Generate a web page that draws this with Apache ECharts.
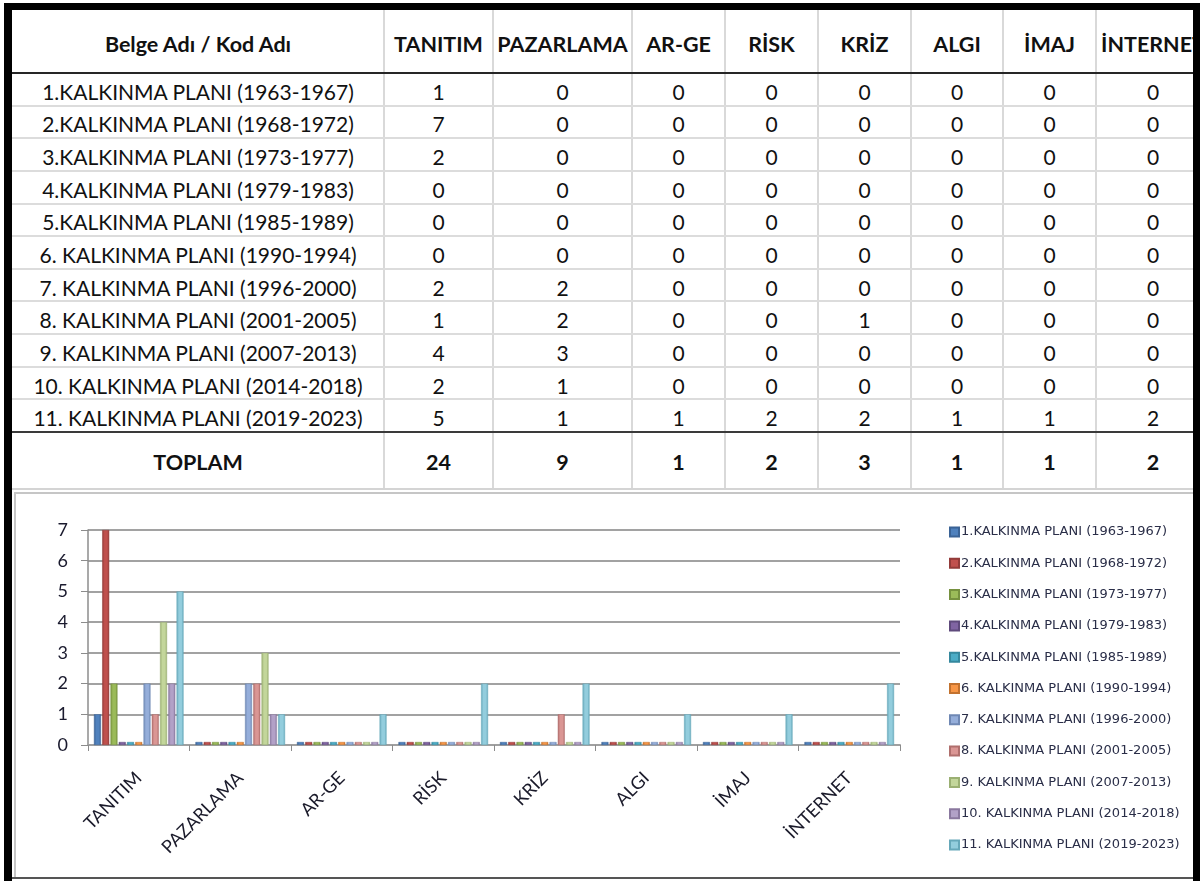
<!DOCTYPE html>
<html>
<head>
<meta charset="utf-8">
<script src="https://cdn.jsdelivr.net/npm/echarts@6/dist/echarts.min.js"></script>
<style>
  html, body { margin: 0; padding: 0; background: #fff; }
  #page { position: relative; width: 1200px; height: 881px; overflow: hidden; background: #fff; font-family: Lato, "Noto Sans", sans-serif; }
  .blk { position: absolute; background: #000; }
  .ln { position: absolute; }
  .cell { position: absolute; display: flex; align-items: center; justify-content: center; color: #111; white-space: nowrap; overflow: visible; }
  #chart { position: absolute; left: 16px; top: 495px; width: 1177px; height: 382px; }
</style>
</head>
<body>
<div id="page">
  <div id="chart"></div>
</div>
<script>
// ---- data ----
const categories = ['TANITIM', 'PAZARLAMA', 'AR-GE', 'RİSK', 'KRİZ', 'ALGI', 'İMAJ', 'İNTERNET'];
const headerLabel = 'Belge Adı / Kod Adı';
const totalLabel = 'TOPLAM';
const planNames = [
  '1.KALKINMA PLANI (1963-1967)',
  '2.KALKINMA PLANI (1968-1972)',
  '3.KALKINMA PLANI (1973-1977)',
  '4.KALKINMA PLANI (1979-1983)',
  '5.KALKINMA PLANI (1985-1989)',
  '6. KALKINMA PLANI (1990-1994)',
  '7. KALKINMA PLANI (1996-2000)',
  '8. KALKINMA PLANI (2001-2005)',
  '9. KALKINMA PLANI (2007-2013)',
  '10. KALKINMA PLANI (2014-2018)',
  '11. KALKINMA PLANI (2019-2023)'
];
const plan1  = [1, 0, 0, 0, 0, 0, 0, 0];
const plan2  = [7, 0, 0, 0, 0, 0, 0, 0];
const plan3  = [2, 0, 0, 0, 0, 0, 0, 0];
const plan4  = [0, 0, 0, 0, 0, 0, 0, 0];
const plan5  = [0, 0, 0, 0, 0, 0, 0, 0];
const plan6  = [0, 0, 0, 0, 0, 0, 0, 0];
const plan7  = [2, 2, 0, 0, 0, 0, 0, 0];
const plan8  = [1, 2, 0, 0, 1, 0, 0, 0];
const plan9  = [4, 3, 0, 0, 0, 0, 0, 0];
const plan10 = [2, 1, 0, 0, 0, 0, 0, 0];
const plan11 = [5, 1, 1, 2, 2, 1, 1, 2];
const totals = [24, 9, 1, 2, 3, 1, 1, 2];
const yTicks = [0, 1, 2, 3, 4, 5, 6, 7];

const planValues = [plan1, plan2, plan3, plan4, plan5, plan6, plan7, plan8, plan9, plan10, plan11];
const colors = ['#4F81BD', '#C0504D', '#9BBB59', '#8064A2', '#4BACC6', '#F79646',
                '#95AEDA', '#DA9694', '#C3D69B', '#B2A1C7', '#93CDDD'];
const borderColors = ['#3a6396', '#933b39', '#76913f', '#5f4a7c', '#35889e', '#c2722f',
                      '#6f88b4', '#b06f6d', '#9bb073', '#8a789f', '#66a8ba'];

// ---- table (HTML) ----
const page = document.getElementById('page');
function add(cls, css, text) {
  const d = document.createElement('div');
  d.className = cls;
  Object.assign(d.style, css);
  if (text !== undefined) d.textContent = text;
  page.insertBefore(d, document.getElementById('chart'));
  return d;
}
const colX = [12, 384, 493, 632, 725, 818, 911, 1003, 1096, 1210];
const headTop = 10, headBot = 73, rowH = (432 - 73) / 11, totTop = 432, totBot = 489;

// grid lines
for (let i = 1; i < colX.length - 1; i++) {
  add('ln', { left: (colX[i] - 1) + 'px', top: headTop + 'px', width: '2px', height: (totBot - headTop) + 'px', background: '#d9d9d9' });
}
for (let r = 1; r < 11; r++) {
  add('ln', { left: '12px', top: (headBot + r * rowH - 1) + 'px', width: '1181px', height: '2px', background: '#dcdcdc' });
}
add('ln', { left: '12px', top: (headBot - 1) + 'px', width: '1181px', height: '2px', background: '#262626' });
add('ln', { left: '12px', top: (totTop - 1) + 'px', width: '1181px', height: '2px', background: '#3a3a3a' });
add('ln', { left: '12px', top: (totBot - 1) + 'px', width: '1181px', height: '2px', background: '#d4d4d4' });

// texts
function cellCss(x0, x1, y0, y1, bold, size) {
  return { left: x0 + 'px', top: y0 + 'px', width: (x1 - x0) + 'px', height: (y1 - y0) + 'px',
           fontWeight: bold ? '700' : '400', fontSize: size + 'px' };
}
const headSize = 21.5, rowSize = 21;
add('cell', cellCss(colX[0], colX[1], headTop + 2, headBot + 2, true, headSize), headerLabel);
categories.forEach((c, j) => add('cell', cellCss(colX[j + 1], colX[j + 2], headTop + 2, headBot + 2, true, headSize), c));
planNames.forEach((n, r) => {
  const y0 = headBot + r * rowH + 2, y1 = y0 + rowH;
  add('cell', cellCss(colX[0], colX[1], y0, y1, false, rowSize), n);
  planValues[r].forEach((v, j) => add('cell', cellCss(colX[j + 1], colX[j + 2], y0, y1, false, rowSize), String(v)));
});
add('cell', cellCss(colX[0], colX[1], totTop + 2, totBot, true, headSize), totalLabel);
totals.forEach((v, j) => add('cell', cellCss(colX[j + 1], colX[j + 2], totTop + 2, totBot, true, headSize), String(v)));

// frame
add('ln', { left: '14px', top: '492px', width: '1179px', height: '2px', background: '#c6c6c6' });
add('ln', { left: '14px', top: '492px', width: '2px', height: '386px', background: '#c6c6c6' });
add('ln', { left: '12px', top: '877px', width: '1182px', height: '2px', background: '#555' });
add('blk', { left: '4px', top: '3px', width: '1196px', height: '7px' });
add('blk', { left: '4px', top: '3px', width: '8px', height: '878px' });
add('blk', { left: '1193px', top: '3px', width: '7px', height: '878px' });

// ---- chart ----
const chart = echarts.init(document.getElementById('chart'), null, { renderer: 'canvas' });
const series = planNames.map((name, i) => ({
  name: name,
  type: 'bar',
  data: planValues[i],
  barWidth: 7,
  barGap: '18%',
  barMinHeight: 3,
  itemStyle: {
    color: new echarts.graphic.LinearGradient(0, 0, 1, 0, [
      { offset: 0, color: borderColors[i] },
      { offset: 0.35, color: colors[i] },
      { offset: 0.7, color: colors[i] },
      { offset: 1, color: borderColors[i] }
    ]),
    borderColor: borderColors[i],
    borderWidth: 0.5
  },
  emphasis: { disabled: true },
  animation: false
}));
chart.setOption({
  animation: false,
  color: colors,
  textStyle: { fontFamily: 'Lato, "Noto Sans", sans-serif' },
  grid: { left: 72, top: 35, right: 293, bottom: 132, containLabel: false },
  legend: {
    orient: 'vertical',
    left: 928,
    top: 25,
    itemWidth: 9,
    itemHeight: 9,
    itemGap: 17.3,
    icon: 'rect',
    data: planNames.map((n, i) => ({ name: n, itemStyle: { color: colors[i] } })),
    textStyle: { fontFamily: '"DejaVu Sans", sans-serif', fontSize: 13, color: '#2a2e48', lineHeight: 14, padding: [0, 0, 0, -3] }
  },
  xAxis: {
    type: 'category',
    data: categories,
    axisLine: { show: true, lineStyle: { color: '#a0a0a0', width: 2 } },
    axisTick: { show: true, length: 6, lineStyle: { color: '#8c8c8c' } },
    axisLabel: { rotate: 45, margin: 30, fontSize: 18, color: '#1a1a2a', interval: 0 },
    splitLine: { show: false }
  },
  yAxis: {
    type: 'value',
    min: yTicks[0],
    max: yTicks[yTicks.length - 1],
    interval: 1,
    axisLine: { show: true, lineStyle: { color: '#8c8c8c', width: 1.5 } },
    axisTick: { show: true, length: 7, lineStyle: { color: '#8c8c8c' } },
    axisLabel: { margin: 20, fontSize: 18, color: '#1a1a2e' },
    splitLine: { show: true, lineStyle: { color: '#a2a2a2', width: 2 } }
  },
  series: series
});
</script>
</body>
</html>
